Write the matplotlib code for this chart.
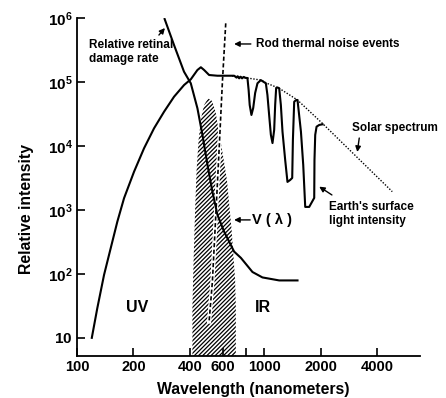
import numpy as np
import matplotlib
matplotlib.use('Agg')
import matplotlib.pyplot as plt

plt.rcParams['font.family'] = 'Liberation Sans'
plt.rcParams['font.weight'] = 'bold'
plt.rcParams['axes.labelweight'] = 'bold'
plt.rcParams['mathtext.fontset'] = 'custom'
plt.rcParams['mathtext.rm'] = 'Liberation Sans:bold'
plt.rcParams['hatch.linewidth'] = 0.9

# earth's surface light intensity (solid)
earth_wl = [120, 128.4, 139.5, 151.4, 164.3, 178.4, 201.8, 228.2, 258.1, 291.9, 330.1, 373.4,
            405.5, 440, 459, 477.7, 508, 562.7, 691,
            712, 722, 735, 748, 762, 778, 795, 814,
            826, 837, 855, 874, 895, 921, 960,
            1021, 1041, 1063, 1086, 1108, 1131, 1145, 1159, 1180,
            1203, 1228, 1253, 1295, 1332, 1377, 1412, 1424, 1447, 1483,
            1507, 1572, 1617, 1657, 1740, 1851, 1857, 1874, 1905, 1968, 2050]
earth_val = [10, 29.1, 96.4, 252, 656, 1524, 3963, 9205, 18900, 34300, 58900, 89700,
             110000, 154000, 170000, 154000, 128600, 125300, 125300,
             117000, 123000, 114000, 121000, 114000, 120000, 116000, 115500,
             75000, 43700, 30500, 39300, 67300, 95500, 107000,
             95400, 62700, 30500, 14900, 11100, 17800, 43700, 80600, 82000,
             79700, 43700, 16700, 6040, 2740, 2940, 3160, 12400, 49200, 52300,
             52300, 16700, 5050, 1114, 1114, 1540, 6040, 14900, 20000, 21300, 21800]

# solar spectrum (dotted)
solar_wl = [674, 811, 964, 1025, 1203, 1506, 2045, 3143, 4834]
solar_val = [124000, 115500, 107000, 96400, 79700, 52300, 22600, 6610, 1932]

# relative retinal damage rate
damage_wl = [294, 330, 373, 405.5, 440, 468, 498, 529, 563, 611, 691, 751, 866, 979, 1203, 1507]
damage_val = [964000, 378000, 145000, 95400, 38800, 14900, 5050, 1932, 836, 458, 223, 178, 107, 88, 79, 79]

# V(lambda), hatched
vlam_wl = [413.7, 419.8, 427.6, 435.6, 446.4, 460.4, 477.7, 501.8, 527.2, 551.7, 567.5, 586.8,
           632.5, 670, 699.6, 705.7]
vlam_val = [30, 166, 1000, 4217, 12400, 27400, 43700, 55600, 50500, 32800, 19100, 11500,
            2944, 487, 80, 30]

# rod thermal noise events (dashed)
rod_wl = [623.3, 598.4, 575, 551.7, 529, 508]
rod_val = [826000, 101000, 9205, 836, 76, 18]

x_ticks = [100, 200, 400, 600, 800, 1000, 2000, 4000]
x_labels = ['100', '200', '400', '600', '', '1000', '2000', '4000']
y_ticks = [10, 1e2, 1e3, 1e4, 1e5, 1e6]
y_labels = [r'$\mathregular{10^{\ }}$', r'$\mathregular{10^2}$', r'$\mathregular{10^3}$',
            r'$\mathregular{10^4}$', r'$\mathregular{10^5}$', r'$\mathregular{10^6}$']

fig = plt.figure(figsize=(4.46, 3.98), dpi=100)
ax = fig.add_axes([0.1726, 0.1055, 0.7691, 0.8492])
ax.set_xscale('log')
ax.set_yscale('log')
ax.set_xlim(100, 6800)
ax.set_ylim(5.2, 1e6)

ax.fill_between(vlam_wl, vlam_val, 1, facecolor='white', edgecolor='black',
                hatch='////////', linewidth=0, zorder=1)
ax.plot(rod_wl, rod_val, color='white', lw=3, zorder=2)
ax.plot(rod_wl, rod_val, color='black', lw=1.2, ls=(0, (2.5, 1.5)), zorder=3)
ax.plot(solar_wl, solar_val, color='black', lw=1.0, ls=(0, (1, 1.2)), zorder=3)
ax.plot(earth_wl, earth_val, color='black', lw=1.5, zorder=4)
ax.plot(damage_wl, damage_val, color='black', lw=1.5, zorder=4)

arrow = dict(arrowstyle='-|>', color='black', lw=1, mutation_scale=8, shrinkA=0, shrinkB=0)
fs = 8.5
ax.text(116, 294000, 'Relative retinal\ndamage rate', fontsize=fs, ha='left', va='center')
ax.annotate('', xy=(295, 698000), xytext=(274, 542000), arrowprops=arrow)
ax.text(903, 393000, 'Rod thermal noise events', fontsize=fs, va='center')
ax.annotate('', xy=(691, 393000), xytext=(849, 393000), arrowprops=arrow)
ax.text(2955, 19100, 'Solar spectrum', fontsize=fs, va='center')
ax.annotate('', xy=(3144, 8055), xytext=(3221, 13300), arrowprops=arrow)
ax.text(2227, 859, "Earth's surface\nlight intensity", fontsize=fs, va='center')
ax.annotate('', xy=(1968, 2311), xytext=(2301, 1714), arrowprops=arrow)
ax.text(862, 698, 'V ( λ )', fontsize=10.5, va='center')
ax.annotate('', xy=(691, 698), xytext=(842, 698), arrowprops=arrow)
ax.text(209, 29.4, 'UV', fontsize=11.5, ha='center', va='center')
ax.text(988, 29.4, 'IR', fontsize=11.5, ha='center', va='center')

ax.set_xticks(x_ticks)
ax.set_xticklabels(x_labels, fontsize=10.5)
ax.set_yticks(y_ticks)
ax.set_yticklabels(y_labels, fontsize=11)
ax.xaxis.set_minor_locator(matplotlib.ticker.NullLocator())
ax.yaxis.set_minor_locator(matplotlib.ticker.NullLocator())
ax.tick_params(axis='x', direction='in', length=6, width=1.2, pad=3)
ax.tick_params(axis='y', direction='in', length=6, width=1.2, pad=3)

ax.set_xlabel('Wavelength (nanometers)', fontsize=11.3)
ax.xaxis.set_label_coords(0.513, -0.077)
ax.set_ylabel('Relative intensity', fontsize=11.3)
ax.yaxis.set_label_coords(-0.125, 0.435)

ax.spines['top'].set_visible(False)
ax.spines['right'].set_visible(False)
for s in ['left', 'bottom']:
    ax.spines[s].set_linewidth(1.3)

fig.savefig('out.png', dpi=100)
